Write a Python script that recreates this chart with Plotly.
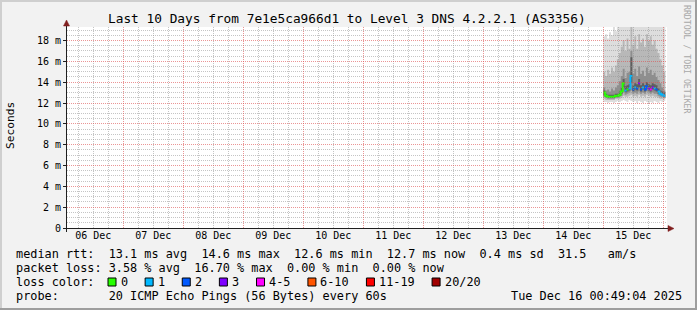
import plotly.graph_objects as go
import pandas as pd

# ---------------- data ----------------
title_text = "Last 10 Days from 7e1e5ca966d1 to Level 3 DNS 4.2.2.1 (AS3356)"
range_start = "2025-12-06 01:29"
range_end = "2025-12-16 01:29"
day_starts = ["2025-12-07", "2025-12-08", "2025-12-09", "2025-12-10", "2025-12-11",
              "2025-12-12", "2025-12-13", "2025-12-14", "2025-12-15", "2025-12-16"]
day_label_pos = ["2025-12-06 12:00", "2025-12-07 12:00", "2025-12-08 12:00", "2025-12-09 12:00",
                 "2025-12-10 12:00", "2025-12-11 12:00", "2025-12-12 12:00", "2025-12-13 12:00",
                 "2025-12-14 12:00", "2025-12-15 12:00"]
day_labels = ["06 Dec", "07 Dec", "08 Dec", "09 Dec", "10 Dec",
              "11 Dec", "12 Dec", "13 Dec", "14 Dec", "15 Dec"]
y_ticks = [0, 2, 4, 6, 8, 10, 12, 14, 16, 18]
y_tick_labels = ["0", "2 m", "4 m", "6 m", "8 m", "10 m", "12 m", "14 m", "16 m", "18 m"]

sample_start = "2025-12-15 00:00"
sample_minutes = 46.5

median_ms = [13.0, 12.7, 12.6, 12.6, 12.6, 12.6, 12.7, 12.7, 12.8, 13.1, 13.9, 13.2, 13.3, 13.4, 14.6, 13.3,
             13.5, 13.4, 13.9, 13.3, 13.5, 13.3, 13.6, 13.4, 13.3, 13.5, 13.4, 13.3, 13.1, 12.9, 12.8, 12.7]
loss_pings = [0, 0, 0, 0, 0, 0, 0, 0, 0, 0, 0, 1, 0, 1, 1, 2,
              1, 2, 3, 2, 1, 2, 2, 3, 4, 3, 1, 2, 1, 1, 1, 1]
# smoke: sorted ping percentiles (ms)
p01 = [12.1, 12.1, 12.0, 12.1, 12.1, 12.0, 12.1, 12.2, 12.1, 12.2, 12.3, 12.2, 12.1, 12.3, 12.2, 12.1,
       12.2, 12.0, 12.2, 12.1, 12.0, 12.2, 12.1, 11.9, 12.1, 12.0, 12.2, 12.1, 12.0, 12.2, 12.1, 12.2]
p04 = [12.4, 12.3, 12.3, 12.3, 12.3, 12.3, 12.4, 12.4, 12.4, 12.5, 12.7, 12.6, 12.6, 12.7, 12.8, 12.6,
       12.7, 12.6, 12.8, 12.6, 12.7, 12.6, 12.8, 12.7, 12.6, 12.7, 12.6, 12.6, 12.5, 12.4, 12.4, 12.4]
p07 = [12.6, 12.5, 12.4, 12.4, 12.4, 12.4, 12.5, 12.5, 12.6, 12.7, 13.1, 12.8, 12.9, 13.0, 13.2, 12.9,
       13.0, 12.9, 13.1, 12.9, 13.0, 12.9, 13.1, 13.0, 12.9, 13.0, 12.9, 12.9, 12.7, 12.6, 12.6, 12.5]
p09 = [12.8, 12.6, 12.5, 12.5, 12.5, 12.5, 12.6, 12.6, 12.7, 12.9, 13.5, 13.0, 13.1, 13.2, 13.9, 13.1,
       13.3, 13.2, 13.5, 13.1, 13.3, 13.1, 13.4, 13.2, 13.1, 13.3, 13.2, 13.1, 12.9, 12.8, 12.7, 12.6]
p12 = [13.2, 12.9, 12.8, 12.8, 12.8, 12.8, 12.9, 12.9, 13.1, 13.5, 14.3, 13.6, 13.7, 13.8, 16.4, 13.7,
       13.9, 13.8, 14.3, 13.7, 13.9, 13.7, 14.0, 13.8, 13.7, 13.9, 13.8, 13.7, 13.4, 13.2, 13.1, 13.0]
p14 = [13.5, 13.2, 13.3, 13.1, 13.4, 13.2, 13.5, 13.7, 14.1, 14.6, 15.3, 14.4, 14.9, 15.0, 17.0, 14.8,
       15.3, 14.6, 15.5, 14.8, 15.1, 14.6, 15.4, 14.9, 15.2, 14.7, 14.9, 14.5, 14.2, 13.9, 13.5, 13.2]
p17 = [15.0, 14.6, 15.2, 14.8, 15.4, 15.0, 15.6, 16.2, 16.8, 17.4, 18.0, 17.0, 18.2, 17.2, 19.5, 17.6,
       18.4, 17.2, 18.6, 17.8, 18.2, 17.4, 18.6, 18.0, 18.4, 17.6, 18.0, 17.2, 16.8, 16.2, 15.6, 15.0]
p20 = [18.4, 18.6, 18.2, 18.8, 18.5, 19.5, 18.9, 25.0, 24.0, 28.0, 30.0, 26.0, 30.0, 27.0, 35.0, 30.0,
       28.0, 32.0, 29.0, 30.0, 27.0, 31.0, 29.0, 30.0, 28.0, 30.0, 27.0, 29.0, 26.0, 24.0, 23.0, 20.0]

loss_labels = ["0", "1", "2", "3", "4-5", "6-10", "11-19", "20/20"]
loss_upper = [0, 1, 2, 3, 5, 10, 19, 20]
loss_colors = ["#26ff00", "#00b8ff", "#0059ff", "#7e00ff", "#ff00ff", "#ff5500", "#ff0000", "#a10000"]

rtt_stats = [13.1, 14.6, 12.6, 12.7, 0.4]   # avg, max, min, now, sd (ms)
am_s = 31.5
loss_stats = [3.58, 16.70, 0.00, 0.00]     # avg, max, min, now (%)
probe_text = "20 ICMP Echo Pings (56 Bytes) every 60s"
stamp_text = "Tue Dec 16 00:49:04 2025"

# ---------------- layout geometry ----------------
W, H = 697, 310
L, T = 67, 27
PW, PH = 600, 201
R = W - L - PW
B = H - T - PH
MONO = "DejaVu Sans Mono"
MGRID = "rgba(222,79,79,0.6)"
GRID = "rgba(143,143,143,0.52)"
DOTS = "1px,1px"
ARROW = "#801f1f"
AXIS = "#1f1f1f"
Y_MAX = 19.3


def fx(px):
    return (px - L) / PW


def fy(py):
    return (T + PH - py) / PH


times = list(pd.date_range(sample_start, periods=len(median_ms) + 1,
                           freq=pd.Timedelta(minutes=sample_minutes)))

# minor grid positions (every 6 h / every 0.5 ms, skipping the major ones)
minor_x = [t for t in pd.date_range("2025-12-06 06:00", "2025-12-16 00:00", freq="6h") if t.hour != 0]
minor_y = [v * 0.5 for v in range(1, 39) if v % 4 != 0]

fig = go.Figure()

# smoke bands (outer -> inner)
bands = [(p01, p20, "#dddddd"), (p04, p17, "#b8b8b8"), (p07, p14, "#8e8e8e"), (p09, p12, "#5e5e5e")]
for lo, hi, col in bands:
    fig.add_trace(go.Scatter(x=times, y=lo + [lo[-1]], mode="lines",
                             line=dict(width=0, shape="hv"), hoverinfo="skip", showlegend=False))
    fig.add_trace(go.Scatter(x=times, y=hi + [hi[-1]], mode="lines", fill="tonexty", fillcolor=col,
                             line=dict(width=0, shape="hv"), hoverinfo="skip", showlegend=False))


def loss_class(n):
    for i, up in enumerate(loss_upper):
        if n <= up:
            return i
    return len(loss_upper) - 1


cls = [loss_class(n) for n in loss_pings]
N = len(median_ms)
for c in range(len(loss_labels)):
    xs, ys = [], []
    k = 0
    while k < N:
        if cls[k] == c:
            while k < N and cls[k] == c:
                xs += [times[k], times[k + 1]]
                ys += [median_ms[k], median_ms[k]]
                k += 1
            xs.append(None)
            ys.append(None)
        else:
            k += 1
    if xs:
        fig.add_trace(go.Scatter(x=xs, y=ys, mode="lines", line=dict(width=2, color=loss_colors[c]),
                                 hoverinfo="skip", showlegend=False))

# invisible trace so the grid subplot (drawn above the data, like rrdtool) is rendered
fig.add_trace(go.Scatter(x=[range_start], y=[0], xaxis="x2", yaxis="y2", mode="markers",
                         marker=dict(opacity=0), hoverinfo="skip", showlegend=False))

shapes = []
# white canvas below everything
shapes.append(dict(type="rect", xref="paper", yref="paper", x0=0, x1=1, y0=0, y1=1,
                   fillcolor="#ffffff", line=dict(width=0), layer="below"))
# 3D border
shapes.append(dict(type="rect", xref="paper", yref="paper", x0=fx(0), x1=fx(W), y0=fy(0), y1=fy(2),
                   fillcolor="#cfcfcf", line=dict(width=0), layer="above"))
shapes.append(dict(type="rect", xref="paper", yref="paper", x0=fx(0), x1=fx(2), y0=fy(0), y1=fy(H),
                   fillcolor="#cfcfcf", line=dict(width=0), layer="above"))
shapes.append(dict(type="rect", xref="paper", yref="paper", x0=fx(0), x1=fx(W), y0=fy(H - 2), y1=fy(H),
                   fillcolor="#9e9e9e", line=dict(width=0), layer="above"))
shapes.append(dict(type="rect", xref="paper", yref="paper", x0=fx(W - 2), x1=fx(W), y0=fy(0), y1=fy(H),
                   fillcolor="#9e9e9e", line=dict(width=0), layer="above"))
# axes
ax_y = T + PH + 0.5
shapes.append(dict(type="line", xref="paper", yref="paper", x0=fx(63), x1=fx(670), y0=fy(ax_y), y1=fy(ax_y),
                   line=dict(color=AXIS, width=1), layer="above"))
shapes.append(dict(type="line", xref="paper", yref="paper", x0=fx(L - 0.5), x1=fx(L - 0.5), y0=fy(232), y1=fy(23),
                   line=dict(color=AXIS, width=1), layer="above"))


def P(x, y):
    return "%.5f,%.5f" % (fx(x), fy(y))


shapes.append(dict(type="path", xref="paper", yref="paper",
                   path="M%s L%s L%s Z" % (P(674, ax_y), P(668, ax_y - 3), P(668, ax_y + 3)),
                   fillcolor=ARROW, line=dict(color=ARROW, width=0.5), layer="above"))
shapes.append(dict(type="path", xref="paper", yref="paper",
                   path="M%s L%s L%s Z" % (P(L - 0.5, 20), P(L - 3.5, 26), P(L + 2.5, 26)),
                   fillcolor=ARROW, line=dict(color=ARROW, width=0.5), layer="above"))

annotations = []


def text(px, py, s, size, xanchor="left", color="#000000", family=MONO, angle=0):
    annotations.append(dict(xref="paper", yref="paper", x=fx(px), y=fy(py), text=s, showarrow=False,
                            xanchor=xanchor, yanchor="middle", textangle=angle, borderpad=0, borderwidth=0,
                            font=dict(family=family, size=size, color=color)))


text(347, 19, title_text, 12.8, xanchor="center")
text(10, 126, "Seconds", 11.2, xanchor="center", angle=-90)
text(687, 59, "RRDTOOL / TOBI OETIKER", 8.2, xanchor="center", color="#a8a8a8", angle=90)

LEG = 11.85
CW = 7.13
line1 = "median rtt:  %.1f ms avg  %.1f ms max  %.1f ms min  %.1f ms now  %.1f ms sd  %.1f   am/s" % (
    rtt_stats[0], rtt_stats[1], rtt_stats[2], rtt_stats[3], rtt_stats[4], am_s)
line2 = "packet loss: %.2f %% avg  %.2f %% max  %.2f %% min  %.2f %% now" % tuple(loss_stats)
text(16, 254, line1, LEG)
text(16, 268, line2, LEG)
text(16, 282, "loss color:", LEG)
text(16, 296, "probe:" + " " * 7 + probe_text, LEG)
text(682, 296, stamp_text, LEG, xanchor="right")

bx = 108
for lab, col in zip(loss_labels, loss_colors):
    shapes.append(dict(type="rect", xref="paper", yref="paper", x0=fx(bx), x1=fx(bx + 8), y0=fy(286), y1=fy(278),
                       fillcolor=col, line=dict(color="#000000", width=1), layer="above"))
    text(bx + 12.5, 282, lab, LEG)
    bx += 12 + len(lab) * CW + 18

fig.update_layout(
    width=W, height=H, margin=dict(l=L, r=R, t=T, b=B, pad=0),
    paper_bgcolor="#f2f2f2", plot_bgcolor="rgba(0,0,0,0)", showlegend=False,
    # data axes: labels only
    xaxis=dict(type="date", range=[range_start, range_end], tickmode="array", tickvals=day_label_pos,
               ticktext=day_labels, showgrid=False, ticks="", zeroline=False, showline=False,
               tickfont=dict(family=MONO, size=10, color="#000000"), fixedrange=True),
    yaxis=dict(range=[0, Y_MAX], tickmode="array", tickvals=y_ticks, ticktext=y_tick_labels,
               showgrid=False, ticks="outside", ticklen=3, tickcolor=AXIS, zeroline=False, showline=False,
               tickfont=dict(family=MONO, size=10, color="#000000"), fixedrange=True),
    # grid axes: a second subplot on the same area, drawn on top of the data
    xaxis2=dict(type="date", range=[range_start, range_end], anchor="y2", domain=[0, 1], tickmode="array",
                tickvals=day_starts, showticklabels=False, ticks="", showgrid=True, gridcolor=MGRID,
                griddash=DOTS, gridwidth=1,
                minor=dict(tickmode="array", tickvals=minor_x, showgrid=True, gridcolor=GRID,
                           griddash=DOTS, gridwidth=1, ticks=""),
                zeroline=False, showline=False, fixedrange=True),
    yaxis2=dict(range=[0, Y_MAX], anchor="x2", domain=[0, 1], tickmode="array", tickvals=y_ticks[1:],
                showticklabels=False, ticks="", showgrid=True, gridcolor=MGRID, griddash=DOTS, gridwidth=1,
                minor=dict(tickmode="array", tickvals=minor_y, showgrid=True, gridcolor=GRID, griddash=DOTS,
                           gridwidth=1, ticks=""),
                zeroline=False, showline=False, fixedrange=True),
    shapes=shapes, annotations=annotations,
)

fig.write_html("out.html")
